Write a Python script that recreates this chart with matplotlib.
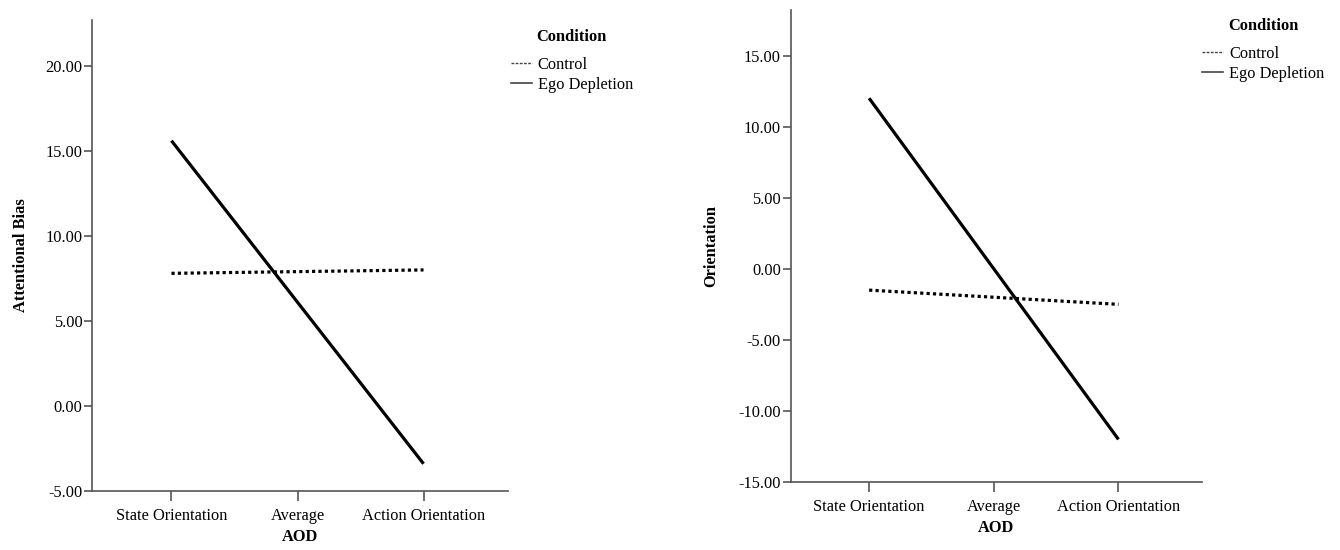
import matplotlib.pyplot as plt
from matplotlib.lines import Line2D
from matplotlib.ticker import FormatStrFormatter

plt.rcParams['font.family'] = ['Liberation Serif', 'DejaVu Serif']

categories = ['State Orientation', 'Average', 'Action Orientation']
series_names = ['Control', 'Ego Depletion']

# left panel: Attentional Bias
bias_control = [7.8, 7.9, 8.0]
bias_ego = [15.6, 6.1, -3.4]
bias_ticks = [-5, 0, 5, 10, 15, 20]

# right panel: Orientation
orient_control = [-1.5, -2.0, -2.5]
orient_ego = [12.0, 0.0, -12.0]
orient_ticks = [-15, -10, -5, 0, 5, 10, 15]

axis_col = '#555555'
fs = 11.8

fig = plt.figure(figsize=(13.4, 5.5), dpi=100)
ax1 = fig.add_axes([0.0687, 0.1073, 0.3104, 0.8564])
ax2 = fig.add_axes([0.590, 0.1236, 0.307, 0.858])

panels = [
    (ax1, bias_control, bias_ego, bias_ticks, (-5, 22.7), 'Attentional Bias', (0.381, 0.948), 12),
    (ax2, orient_control, orient_ego, orient_ticks, (-15, 18.2), 'Orientation', (0.897, 0.968), 14),
]

for ax, ctrl, ego, yt, ylim, ylab, leg_pos, ypad in panels:
    x = list(range(len(categories)))
    ax.plot(x, ctrl, color='black', lw=2.3, linestyle=(0, (1, 1)), solid_capstyle='butt')
    ax.plot(x, ego, color='black', lw=2.3, solid_capstyle='butt')
    ax.set_xlim(-0.63, 2.67)
    ax.set_ylim(*ylim)
    ax.set_xticks(x)
    ax.set_xticklabels(categories, fontsize=fs)
    ax.set_yticks(yt)
    ax.yaxis.set_major_formatter(FormatStrFormatter('%.2f'))
    ax.tick_params(axis='y', labelsize=fs, length=6, width=1.2, color=axis_col, pad=1)
    ax.tick_params(axis='x', length=7, width=1.2, color=axis_col, pad=5)
    for s in ['top', 'right']:
        ax.spines[s].set_visible(False)
    for s in ['left', 'bottom']:
        ax.spines[s].set_color(axis_col)
        ax.spines[s].set_linewidth(1.2)
    ax.set_xlabel('AOD', fontsize=fs, fontweight='bold', labelpad=4)
    ax.set_ylabel(ylab, fontsize=fs, fontweight='bold', labelpad=ypad)

    handles = [
        Line2D([], [], color='#444444', lw=1.0, linestyle=(0, (2, 1))),
        Line2D([], [], color='#444444', lw=1.2),
    ]
    leg = fig.legend(handles, series_names, loc='upper left', bbox_to_anchor=leg_pos,
                     title='Condition', frameon=False, fontsize=fs, handlelength=1.3,
                     handletextpad=0.35, labelspacing=0.25, borderpad=0, borderaxespad=0)
    leg.get_title().set_fontweight('bold')
    leg.get_title().set_fontsize(fs)
    leg._legend_box.sep = 9

fig.savefig('out.png', dpi=100)
